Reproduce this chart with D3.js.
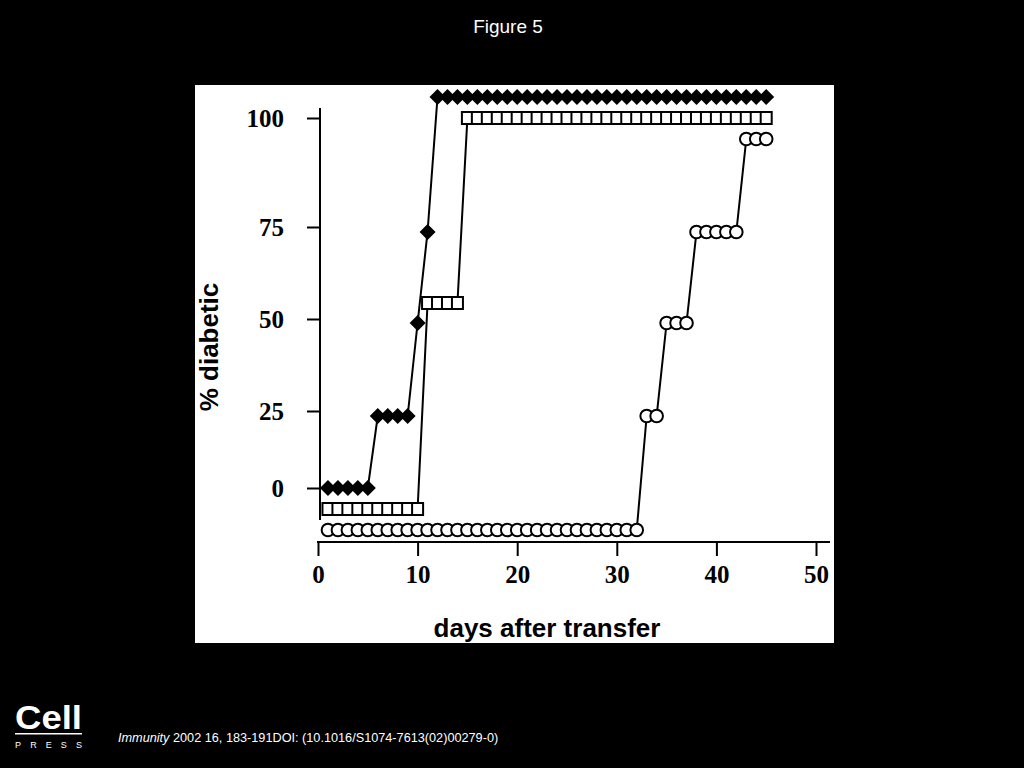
<!DOCTYPE html>
<html>
<head>
<meta charset="utf-8">
<script src="https://cdn.jsdelivr.net/npm/d3@7"></script>
<style>
  body { margin: 0; background: #000; }
  svg { display: block; }
</style>
</head>
<body>
<script>
const width = 1024;
const height = 768;

// tick labels
const xTicks = [0, 10, 20, 30, 40, 50];
const yTicks = [0, 25, 50, 75, 100];

// days after transfer, one entry per observation
const diamondDays = [1, 2, 3, 4, 5, 6, 7, 8, 9, 10, 11, 12, 13, 14, 15, 16, 17, 18, 19, 20, 21, 22, 23,
  24, 25, 26, 27, 28, 29, 30, 31, 32, 33, 34, 35, 36, 37, 38, 39, 40, 41, 42, 43, 44, 45];
const diamondPct = [0, 0, 0, 0, 0, 25, 25, 25, 25, 50, 75, 100, 100, 100, 100, 100, 100, 100, 100, 100,
  100, 100, 100, 100, 100, 100, 100, 100, 100, 100, 100, 100, 100, 100, 100, 100, 100, 100, 100, 100,
  100, 100, 100, 100, 100];

const squareDays = [1, 2, 3, 4, 5, 6, 7, 8, 9, 10, 11, 12, 13, 14, 15, 16, 17, 18, 19, 20, 21, 22, 23,
  24, 25, 26, 27, 28, 29, 30, 31, 32, 33, 34, 35, 36, 37, 38, 39, 40, 41, 42, 43, 44, 45];
const squarePct = [0, 0, 0, 0, 0, 0, 0, 0, 0, 0, 50, 50, 50, 50, 100, 100, 100, 100, 100, 100, 100, 100,
  100, 100, 100, 100, 100, 100, 100, 100, 100, 100, 100, 100, 100, 100, 100, 100, 100, 100, 100, 100,
  100, 100, 100];

const circleDays = [1, 2, 3, 4, 5, 6, 7, 8, 9, 10, 11, 12, 13, 14, 15, 16, 17, 18, 19, 20, 21, 22, 23,
  24, 25, 26, 27, 28, 29, 30, 31, 32, 33, 34, 35, 36, 37, 38, 39, 40, 41, 42, 43, 44, 45];
const circlePct = [0, 0, 0, 0, 0, 0, 0, 0, 0, 0, 0, 0, 0, 0, 0, 0, 0, 0, 0, 0, 0, 0, 0, 0, 0, 0, 0, 0,
  0, 0, 0, 0, 25, 25, 50, 50, 50, 75, 75, 75, 75, 75, 100, 100, 100];

const svg = d3.select("body").append("svg")
  .attr("width", width)
  .attr("height", height);

svg.append("rect")
  .attr("width", width).attr("height", height)
  .attr("fill", "#000");

//title
svg.append("text")
  .attr("x", 508).attr("y", 33)
  .attr("text-anchor", "middle")
  .attr("fill", "#fff")
  .style("font", "19px 'Liberation Sans', Arial, sans-serif")
  .text("Figure 5");

//white figure panel
svg.append("rect")
  .attr("x", 195).attr("y", 85)
  .attr("width", 639).attr("height", 558)
  .attr("fill", "#fff");

const xScale = d3.scaleLinear()
  .domain([0, 50])
  .range([318, 816]);

// the printed axis is not evenly spaced
const yScale = d3.scaleLinear()
  .domain(yTicks)
  .range([488, 411, 319, 227, 118]);

// where the points of each level were drawn
const yPlot = d3.scaleLinear()
  .domain(yTicks)
  .range([488, 416, 323, 232, 118]);

// overlapping groups are shifted apart, as in the print
const nudge = {
  diamond: {100: -21},
  square: {0: 21, 50: -20},
  circle: {0: 42, 100: 21}
};

const serif = "bold 25px 'Liberation Serif', 'Times New Roman', serif";
const sans = "bold 26px 'Liberation Sans', Arial, sans-serif";

//Add Axises
const yAxis = d3.axisLeft(yScale)
  .tickValues(yTicks)
  .tickSize(13)
  .tickPadding(23)
  .tickSizeOuter(0);

const gy = svg.append("g")
  .attr("transform", "translate(320,0)")
  .call(yAxis);
gy.select(".domain").remove();
gy.selectAll(".tick line").attr("stroke", "#000").attr("stroke-width", 2);
gy.selectAll(".tick text").attr("fill", "#000").style("font", serif);
gy.append("line")
  .attr("y1", yScale(100) - 10)
  .attr("y2", yScale(0) + 32)
  .attr("stroke", "#000").attr("stroke-width", 2);

const xAxis = d3.axisBottom(xScale)
  .tickValues(xTicks)
  .tickSize(14)
  .tickPadding(9)
  .tickSizeOuter(0);

const gx = svg.append("g")
  .attr("transform", "translate(0,542)")
  .call(xAxis);
gx.select(".domain").remove();
gx.selectAll(".tick line").attr("stroke", "#000").attr("stroke-width", 2);
gx.selectAll(".tick text").attr("fill", "#000").style("font", serif);
gx.append("line")
  .attr("x1", xScale(0) - 1)
  .attr("x2", xScale(50) + 14)
  .attr("stroke", "#000").attr("stroke-width", 2);

svg.append("text")
  .attr("transform", "translate(218,347) rotate(-90)")
  .attr("text-anchor", "middle")
  .attr("fill", "#000")
  .style("font", sans)
  .text("% diabetic");

svg.append("text")
  .attr("x", 547).attr("y", 637)
  .attr("text-anchor", "middle")
  .attr("fill", "#000")
  .style("font", sans)
  .text("days after transfer");

//series
function build(days, pct, key) {
  return days.map((d, i) => ({
    day: d,
    pct: pct[i],
    y: yPlot(pct[i]) + (nudge[key][pct[i]] || 0)
  }));
}

const series = [
  {key: "diamond", data: build(diamondDays, diamondPct, "diamond")},
  {key: "square", data: build(squareDays, squarePct, "square")},
  {key: "circle", data: build(circleDays, circlePct, "circle")}
];

const line = d3.line()
  .x(d => xScale(d.day))
  .y(d => d.y);

series.forEach(s => {
  const g = svg.append("g");
  g.append("path")
    .datum(s.data)
    .attr("fill", "none")
    .attr("stroke", "#000")
    .attr("stroke-width", 2)
    .attr("d", line);

  const pts = g.selectAll(".pt")
    .data(s.data)
    .enter();

  if (s.key === "diamond") {
    pts.append("path")
      .attr("d", "M0,-8L8,0L0,8L-8,0Z")
      .attr("transform", d => "translate(" + xScale(d.day) + "," + d.y + ")")
      .attr("fill", "#000");
  } else if (s.key === "square") {
    pts.append("rect")
      .attr("x", d => xScale(d.day) - 5.5)
      .attr("y", d => d.y - 6)
      .attr("width", 11)
      .attr("height", 12)
      .attr("fill", "#fff")
      .attr("stroke", "#000")
      .attr("stroke-width", 2);
  } else {
    pts.append("circle")
      .attr("cx", d => xScale(d.day))
      .attr("cy", d => d.y)
      .attr("r", 6.3)
      .attr("fill", "#fff")
      .attr("stroke", "#000")
      .attr("stroke-width", 2);
  }
});

//footer: logo and citation
svg.append("text")
  .attr("x", 15).attr("y", 729)
  .attr("fill", "#fff")
  .attr("textLength", 67)
  .attr("lengthAdjust", "spacingAndGlyphs")
  .style("font", "bold 34px 'Liberation Sans', Arial, sans-serif")
  .text("Cell");

svg.append("rect")
  .attr("x", 15).attr("y", 733)
  .attr("width", 67).attr("height", 1.5)
  .attr("fill", "#fff");

svg.append("text")
  .attr("x", 15).attr("y", 748)
  .attr("fill", "#fff")
  .attr("textLength", 67)
  .attr("lengthAdjust", "spacing")
  .style("font", "9px 'Liberation Sans', Arial, sans-serif")
  .text("PRESS");

const cite = svg.append("text")
  .attr("x", 118).attr("y", 742)
  .attr("fill", "#fff")
  .style("font", "12.7px 'Liberation Sans', Arial, sans-serif");
cite.append("tspan").style("font-style", "italic").text("Immunity");
cite.append("tspan").text(" 2002 16, 183-191DOI: (10.1016/S1074-7613(02)00279-0)");
</script>
</body>
</html>
